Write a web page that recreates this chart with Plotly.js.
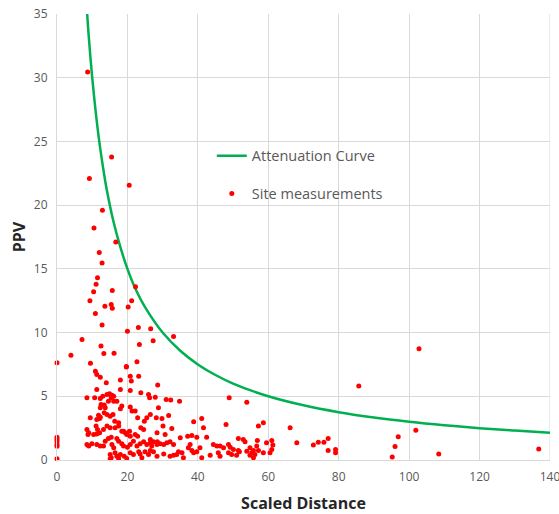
<!DOCTYPE html>
<html>
<head>
<meta charset="utf-8">
<script src="https://cdn.plot.ly/plotly-3.0.1.min.js"></script>
<style>html,body{margin:0;padding:0;background:#fff;}#chart{width:559px;height:514px;}</style>
</head>
<body>
<div id="chart"></div>
<script>
// Attenuation curve
const curveSD  = [8.57, 9, 10, 11, 12, 13, 14, 16, 18, 20, 22.5, 25, 30, 35, 40, 45, 50, 60, 70, 80, 90, 100, 110, 120, 130, 140];
const curvePPV = [35, 33.3, 30, 27.3, 25, 23.1, 21.4, 18.75, 16.7, 15, 13.3, 12, 10, 8.57, 7.5, 6.67, 6, 5, 4.29, 3.75, 3.33, 3.0, 2.73, 2.5, 2.31, 2.14];

// Site measurements: scaled distance
const siteSD = [
  8.7, 15.5, 9.2, 20.5, 12.9, 10.5, 16.7, 12.0, 12.8,
  11.5, 11.1, 10.4, 15.7, 22.3, 9.35, 21.2, 13.6, 15.4, 15.7, 20.2, 10.9, 12.8, 20.0, 23.1, 26.6, 27.3, 7.1, 12.5, 23.4, 13.3, 16.2, 3.96, 0, 9.5, 19.7, 22.7, 33.1,
  0, 0, 0, 0, 0, 0,
  10.9, 11.3, 12.3, 19.7, 20.8, 21.1, 23.2, 14.0, 18.0,
  18.0, 20.8, 23.8, 26.0, 26.3, 27.9, 11.3,
  8.5, 10.7, 12.3, 13.0, 14.2, 14.9, 15.6, 16.1, 15.4, 16.1, 14.6,
  12.5, 13.4, 13.7, 12.3, 13.4, 14.2,
  9.45, 11.8, 12.3, 11.3, 12.1,
  17.0, 18.0, 18.4, 20.8, 21.3, 22.2, 22.9, 24.8, 25.5, 26.5, 28.2,
  15.1, 15.9, 16.4, 17.5,
  8.5, 8.8, 9.0, 10.4, 11.3, 12.1, 11.1, 11.5, 13.2, 14.2, 15.1, 16.5,
  17.5, 18.4, 18.9, 19.4, 19.8, 20.8, 20.6, 22.2, 22.9, 23.8, 24.6,
  8.5, 9.0, 9.9, 11.3, 12.3, 13.2, 13.7, 14.6, 15.4, 15.6, 16.1,
  17.0, 17.5, 18.4, 18.9, 20.0, 20.8, 21.7, 22.7, 23.6, 24.6, 25.5, 26.5, 27.4, 28.4,
  15.1, 15.4, 16.5, 17.0, 18.0, 19.1, 19.8, 20.8, 21.7, 23.2, 23.6, 24.1, 25.0, 26.0, 26.5, 27.4,
  17.5, 15.1,
  28.6, 31.0, 32.3, 34.8, 48.9, 53.9, 28.8, 31.7, 29.8, 38.8, 41.1, 48.0, 30.1, 32.6, 41.6, 57.2,
  30.7, 28.4, 37.1, 38.3, 39.7, 42.5, 35.0, 51.5, 52.9, 53.4,
  26.5, 28.5, 29.3, 30.3, 31.2, 32.1, 33.1, 26.9,
  44.4, 45.4, 46.3, 47.3, 48.7, 49.2, 50.1, 51.5, 54.8, 55.8, 56.7, 55.3, 56.2, 57.2,
  37.8, 37.3, 38.3, 38.8, 39.7, 40.6,
  34.5, 35.5, 34.0, 33.1, 32.1, 35.9, 30.3, 28.4,
  45.8, 46.3, 48.7, 49.6, 51.0, 51.8, 53.9, 54.8, 55.8, 41.1, 43.5,
  58.6, 66.2, 68.1, 72.8, 74.2, 75.8, 77.0, 77.0, 79.1, 79.1,
  56.9, 59.5, 61.0, 61.3, 61.0, 60.5, 58.6,
  85.7, 102.8, 101.9, 96.9, 96.0, 95.2, 108.4, 136.8
];
// Site measurements: PPV
const sitePPV = [
  30.44, 23.77, 22.1, 21.57, 19.6, 18.2, 17.1, 16.29, 15.45,
  14.3, 13.8, 13.2, 13.3, 13.6, 12.5, 12.5, 12.07, 12.2, 11.9, 12.0, 11.5, 10.6, 10.1, 10.4, 10.3, 9.35, 9.45, 8.94, 9.07, 8.36, 8.38, 8.22, 7.63, 7.6, 7.33, 7.72, 9.69,
  1.79, 1.61, 1.43, 1.21, 1.08, 0.09,
  6.97, 6.71, 6.5, 7.29, 6.58, 6.19, 6.58, 6.06, 6.27,
  5.54, 5.46, 5.27, 5.14, 4.88, 4.93, 5.54,
  4.88, 4.88, 4.83, 5.01, 5.14, 5.2, 5.09, 5.01, 4.88, 4.62, 4.62,
  4.36, 4.31, 4.1, 4.1, 3.7, 3.57,
  3.31, 3.52, 3.36, 3.18, 3.26,
  4.62, 4.02, 4.23, 4.15, 3.84, 3.84, 3.31, 3.05, 3.31, 3.57, 3.31,
  3.44, 3.57, 3.05, 2.92,
  2.4, 2.0, 2.13, 2.0, 2.05, 2.13, 2.66, 2.4, 2.4, 2.66, 2.53, 2.53,
  2.66, 2.26, 2.26, 2.13, 2.0, 1.87, 2.26, 2.0, 1.87, 2.53, 2.4,
  1.22, 1.09, 1.27, 1.22, 1.09, 1.09, 1.48, 1.69, 1.79, 1.22, 0.96,
  1.69, 1.48, 1.27, 1.09, 1.01, 1.22, 1.48, 1.09, 1.27, 1.43, 1.22, 1.35, 1.43, 1.22,
  0.43, 0.17, 0.56, 0.3, 0.43, 0.3, 0.12, 0.56, 0.43, 0.64, 0.48, 0.17, 0.64, 0.43, 0.75, 0.64,
  0.12, 0.09,
  5.88, 4.75, 4.7, 4.62, 4.88, 4.54, 4.1, 3.49, 3.26, 3.0, 3.26, 2.79, 2.66, 2.47, 2.53, 2.66,
  2.0, 2.13, 1.87, 1.92, 1.79, 1.79, 1.74, 1.69, 1.61, 1.43,
  1.61, 1.43, 1.27, 1.22, 1.35, 1.43, 1.22, 1.09,
  1.22, 1.09, 1.09, 0.96, 1.22, 1.01, 0.82, 0.75, 0.96, 0.75, 1.09, 0.56, 0.43, 0.75,
  1.22, 0.96, 0.75, 0.56, 0.64, 0.96,
  0.64, 0.56, 0.43, 0.38, 0.3, 0.17, 0.48, 0.3,
  0.56, 0.3, 0.56, 0.43, 0.38, 0.64, 0.69, 0.38, 0.17, 0.17, 0.38,
  2.92, 2.53, 1.35, 1.17, 1.4, 1.4, 1.69, 0.75, 0.82, 0.56,
  1.53, 1.35, 1.53, 1.17, 0.82, 0.56, 0.56,
  5.81, 8.73, 2.34, 1.82, 1.05, 0.24, 0.48, 0.87
];

const seriesNames = ['Attenuation Curve', 'Site measurements'];
const xTicks = [0, 20, 40, 60, 80, 100, 120, 140];
const yTicks = [0, 5, 10, 15, 20, 25, 30, 35];

const traces = [
  {
    x: curveSD, y: curvePPV, type: 'scatter', mode: 'lines', name: seriesNames[0],
    line: {color: '#00B050', width: 2.5, shape: 'spline', smoothing: 1.0},
    legendgroup: 'a', cliponaxis: true
  },
  {
    x: siteSD, y: sitePPV, type: 'scatter', mode: 'markers', name: seriesNames[1],
    marker: {color: '#FF0000', size: 5},
    legendgroup: 'b', cliponaxis: false
  }
];

const axisFont = {family: 'Open Sans, Liberation Sans, sans-serif', size: 12, color: '#595959'};
const layout = {
  width: 559, height: 514,
  margin: {l: 57, r: 9, t: 14, b: 54},
  paper_bgcolor: '#ffffff', plot_bgcolor: '#ffffff',
  showlegend: true,
  legend: {
    x: 0.314, y: 0.718, xanchor: 'left', yanchor: 'top',
    font: {family: 'Open Sans, sans-serif', size: 14.5, color: '#595959'},
    bgcolor: 'rgba(0,0,0,0)', traceorder: 'grouped', tracegroupgap: 16
  },
  xaxis: {
    range: [0, 140], tickvals: xTicks, ticktext: xTicks.map(String),
    showgrid: true, gridcolor: '#d9d9d9', gridwidth: 1,
    zeroline: false, showline: true, linecolor: '#d9d9d9', linewidth: 1, mirror: false,
    ticks: '', tickfont: axisFont, ticklabelstandoff: 6, ticklabeloverflow: 'allow',
    title: {text: 'Scaled Distance', font: {family: 'Open Sans, sans-serif', size: 16, color: '#262626', weight: 'bold'}, standoff: 14}
  },
  yaxis: {
    range: [0, 35], tickvals: yTicks, ticktext: yTicks.map(String),
    showgrid: true, gridcolor: '#d9d9d9', gridwidth: 1,
    zeroline: false, showline: true, linecolor: '#d9d9d9', linewidth: 1,
    ticks: '', tickfont: axisFont, ticklabelstandoff: 6,
    title: {text: 'PPV', font: {family: 'Open Sans, sans-serif', size: 16, color: '#262626', weight: 'bold'}, standoff: 4}
  },
  shapes: [
    {type: 'line', xref: 'x', yref: 'paper', x0: 140, x1: 140, y0: 0, y1: 1, line: {color: '#d9d9d9', width: 1}, layer: 'below'}
  ]
};

Plotly.newPlot('chart', traces, layout, {displayModeBar: false, staticPlot: true});
</script>
</body>
</html>
